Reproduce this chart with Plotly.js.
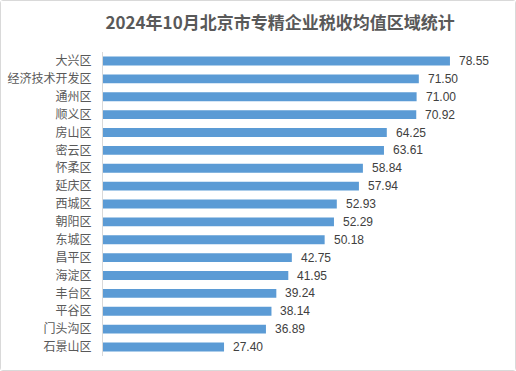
<!DOCTYPE html>
<html>
<head>
<meta charset="utf-8">
<script src="https://cdn.plot.ly/plotly-3.0.1.min.js"></script>
<style>
html,body{margin:0;padding:0;background:#fff;}
#chart{width:514px;height:369px;border:1px solid #d9d9d9;border-radius:3px;}
</style>
</head>
<body>
<div id="chart"></div>
<script>
const districts = ["大兴区","经济技术开发区","通州区","顺义区","房山区","密云区","怀柔区","延庆区","西城区","朝阳区","东城区","昌平区","海淀区","丰台区","平谷区","门头沟区","石景山区"];
const taxMeans = [78.55,71.50,71.00,70.92,64.25,63.61,58.84,57.94,52.93,52.29,50.18,42.75,41.95,39.24,38.14,36.89,27.40];
const chartTitle = "2024年10月北京市专精企业税收均值区域统计";

const font = '"Noto Sans CJK SC", "Noto Sans", sans-serif';
const trace = {
  type: 'bar',
  orientation: 'h',
  x: taxMeans,
  y: districts,
  marker: {color: '#5b9bd5'},
  hoverinfo: 'x+y'
};
const annotations = taxMeans.map((v, i) => ({
  x: v, y: districts[i], xref: 'x', yref: 'y',
  text: v.toFixed(2), showarrow: false, xanchor: 'left', yanchor: 'middle',
  xshift: 7, font: {family: '"Liberation Sans", "Noto Sans", sans-serif', size: 12, color: '#404040'}
}));
const layout = {
  width: 514, height: 369,
  margin: {l: 102, r: 35, t: 51, b: 14},
  paper_bgcolor: '#fff', plot_bgcolor: '#fff',
  bargap: 0.5,
  showlegend: false,
  title: {text: chartTitle, xref: 'container', yref: 'container', x: 0.543, y: 1 - 22/369,
          xanchor: 'center', yanchor: 'middle',
          font: {family: font, size: 17, color: '#595959', weight: 'bold'}},
  xaxis: {range: [0, 85.35], visible: false, showgrid: false, zeroline: false, fixedrange: true},
  yaxis: {type: 'category', autorange: 'reversed', showline: true, linecolor: '#d9d9d9', linewidth: 1,
          showgrid: false, zeroline: false, ticks: 'outside', ticklen: 8, tickcolor: 'rgba(0,0,0,0)',
          tickfont: {family: font, size: 12, color: '#595959'}},
  annotations: annotations
};
Plotly.newPlot('chart', [trace], layout, {displayModeBar: false, staticPlot: true});
</script>
</body>
</html>
